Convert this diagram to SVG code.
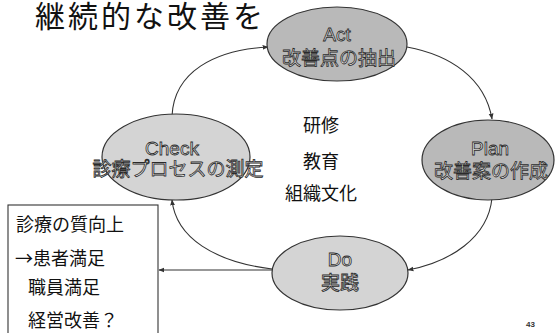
<svg xmlns="http://www.w3.org/2000/svg" width="555" height="333" viewBox="0 0 555 333">
<style>
.node{stroke:#333;stroke-width:1.2}
.dark{fill:#b9b9b9}
.light{fill:#d4d4d4}
.lbl{font-family:"Liberation Sans","Noto Sans CJK JP",sans-serif;font-size:19px;fill:#eeeeee;stroke:#2a2a2a;stroke-width:0.8;text-anchor:middle}
.c{fill:none;stroke:#333;stroke-width:1.1}
.t{font-family:"Noto Sans CJK JP",sans-serif;fill:#111}
</style>
<defs>
<marker id="ah" viewBox="0 0 10 10" refX="9" refY="5" markerWidth="6" markerHeight="6" orient="auto-start-reverse" markerUnits="userSpaceOnUse">
<path d="M0,1 L10,5 L0,9 z" fill="#333"/>
</marker>
</defs>
<rect width="555" height="333" fill="#fff"/>
<text class="t" x="35" y="27" font-size="30" letter-spacing="3">継続的な改善を</text>

<g id="connectors">
<path class="c" d="M172,116 C174,72 214,50 268,47" marker-end="url(#ah)"/>
<path class="c" d="M407,47 C450,55 485,78 492,119" marker-end="url(#ah)"/>
<path class="c" d="M492,198 C488,238 450,262 408,270" marker-end="url(#ah)"/>
<path class="c" d="M272,269 C215,262 176,238 172,200" marker-end="url(#ah)"/>
<path class="c" d="M272,270 L159,270" marker-end="url(#ah)"/>
</g>

<g id="act">
<ellipse class="node dark" cx="337" cy="44" rx="70" ry="37"/>
<text class="lbl" x="337" y="41" font-size="18">Act</text>
<text class="lbl" x="339" y="65">改善点の抽出</text>
</g>
<g id="plan">
<ellipse class="node dark" cx="488" cy="160" rx="66" ry="40"/>
<text class="lbl" x="490" y="155" font-size="18">Plan</text>
<text class="lbl" x="491" y="178">改善案の作成</text>
</g>
<g id="do">
<ellipse class="node light" cx="340" cy="273" rx="68" ry="37"/>
<text class="lbl" x="340" y="266" font-size="18">Do</text>
<text class="lbl" x="340" y="290">実践</text>
</g>
<g id="check">
<ellipse class="node light" cx="176" cy="157" rx="74" ry="43"/>
<text class="lbl" x="172" y="155" font-size="18">Check</text>
<text class="lbl" x="178" y="176">診療プロセスの測定</text>
</g>

<g id="center">
<text class="t" x="321" y="132" font-size="18" text-anchor="middle">研修</text>
<text class="t" x="321" y="168" font-size="18" text-anchor="middle">教育</text>
<text class="t" x="321" y="200" font-size="18" text-anchor="middle">組織文化</text>
</g>

<g id="box">
<rect x="8" y="205" width="150" height="140" fill="#fff" stroke="#333" stroke-width="1.1"/>
<text class="t" x="16" y="231" font-size="18">診療の質向上</text>
<text class="t" x="15" y="265" font-size="18">→患者満足</text>
<text class="t" x="28" y="294" font-size="18">職員満足</text>
<text class="t" x="28" y="327" font-size="18">経営改善？</text>
</g>

<text x="526" y="327" font-family="Liberation Sans, sans-serif" font-size="8" font-weight="bold" fill="#333">43</text>
</svg>
